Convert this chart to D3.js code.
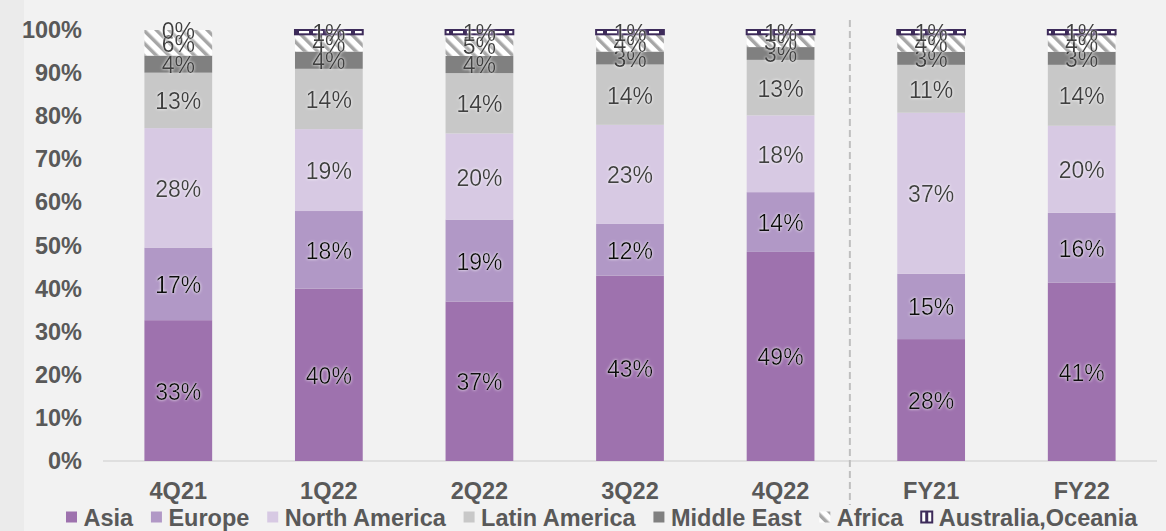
<!DOCTYPE html>
<html>
  <head>
    <meta charset="utf-8">
    <title></title>
    <style>
      body {
        margin: 0;
        background: #f2f2f2;
        font-family: Arial, "Liberation Sans", sans-serif;
      }
      svg {
        display: block;
      }
      .axis .domain, .axis line {
        display: none;
      }
      .axis text {
        font-size: 23.5px;
        font-weight: 700;
        fill: #595959;
      }
      .label {
        font-size: 23px;
        text-anchor: middle;
        dominant-baseline: central;
      }
      .legend text {
        font-size: 23.5px;
        font-weight: 700;
        fill: #595959;
      }
    </style>
  </head>
  <body>
    <div class="chart"></div>
    <script src="https://cdn.jsdelivr.net/npm/d3@7"></script>
    <script>

      let categories = ["4Q21", "1Q22", "2Q22", "3Q22", "4Q22", "FY21", "FY22"];
      let asia = [33, 40, 37, 43, 49, 28, 41];
      let europe = [17, 18, 19, 12, 14, 15, 16];
      let northAmerica = [28, 19, 20, 23, 18, 37, 20];
      let latinAmerica = [13, 14, 14, 14, 13, 11, 14];
      let middleEast = [4, 4, 4, 3, 3, 3, 3];
      let africa = [6, 4, 5, 4, 3, 4, 4];
      let oceania = [0, 1, 1, 1, 1, 1, 1];
      let seriesNames = ["Asia", "Europe", "North America", "Latin America", "Middle East", "Africa", "Australia,Oceania"];
      let yTicks = [0, 0.1, 0.2, 0.3, 0.4, 0.5, 0.6, 0.7, 0.8, 0.9, 1];

      let seriesValues = [asia, europe, northAmerica, latinAmerica, middleEast, africa, oceania];
      let fills = ["#9e72ae", "#b198c6", "#d7c9e3", "#c8c8c8", "#808080", "url(#africa)", "url(#oceania)"];
      let labelColors = ["#111", "#111", "#404040", "#404040", "#404040", "#404040", "#404040"];

      let rows = categories.map((c, i) => {
        let r = {category: c};
        seriesNames.forEach((s, j) => { r[s] = seriesValues[j][i]; });
        return r;
      });

      let elWidth = 1166, elHeight = 531;
      let margin = {top: 30, right: 9, bottom: 70, left: 103};
      let width = elWidth - margin.left - margin.right;
      let height = elHeight - margin.top - margin.bottom;

      let svg = d3.select('.chart').append('svg')
        .attr('width', elWidth)
        .attr('height', elHeight);

      let defs = svg.append('defs');

      let pa = defs.append('pattern')
        .attr('id', 'africa')
        .attr('patternUnits', 'userSpaceOnUse')
        .attr('width', 9).attr('height', 9)
        .attr('patternTransform', 'rotate(-45)');
      pa.append('rect').attr('width', 9).attr('height', 9).attr('fill', '#fff');
      pa.append('rect').attr('width', 3.5).attr('height', 9).attr('fill', '#a6a6a6');

      let po = defs.append('pattern')
        .attr('id', 'oceania')
        .attr('patternUnits', 'userSpaceOnUse')
        .attr('width', 14).attr('height', 14);
      po.append('rect').attr('width', 14).attr('height', 14).attr('fill', '#fff');
      po.append('rect').attr('x', 10).attr('width', 4).attr('height', 14).attr('fill', '#3d2b5a');

      let glow = defs.append('filter').attr('id', 'glow')
        .attr('x', '-20%').attr('y', '-30%').attr('width', '140%').attr('height', '160%');
      glow.append('feGaussianBlur').attr('in', 'SourceAlpha').attr('stdDeviation', 1.6).attr('result', 'b');
      glow.append('feFlood').attr('flood-color', '#fff').attr('flood-opacity', 1);
      glow.append('feComposite').attr('in2', 'b').attr('operator', 'in').attr('result', 'w');
      let merge = glow.append('feMerge');
      merge.append('feMergeNode').attr('in', 'w');
      merge.append('feMergeNode').attr('in', 'SourceGraphic');

      svg.append('rect').attr('width', 24).attr('height', elHeight).attr('fill', '#ebebeb');

      let g = svg.append("g").attr("transform", "translate(" + margin.left + "," + margin.top + ")");

      let x = d3.scaleBand()
        .domain(categories)
        .range([0, width])
        .paddingInner(0.55)
        .paddingOuter(0.275);

      let y = d3.scaleLinear()
        .domain([0, 1])
        .range([height, 0]);

      let stack = d3.stack()
        .keys(seriesNames)
        .offset(d3.stackOffsetExpand);
      let stacked = stack(rows);

      g.append("g")
        .attr('class', 'axis axis-left')
        .call(d3.axisLeft(y).tickValues(yTicks).tickFormat(d3.format(".0%")).tickSize(0).tickPadding(21));

      g.append("line")
        .attr("x1", 0).attr("x2", width)
        .attr("y1", y(0)).attr("y2", y(0))
        .attr("stroke", "#d9d9d9")
        .attr("stroke-width", 1.5);

      g.append("g")
        .attr('class', 'axis axis-bottom')
        .attr("transform", "translate(0," + height + ")")
        .call(d3.axisBottom(x).tickSize(0).tickPadding(21));

      // divider between quarters and full years
      let sep = x("FY21") - (x.step() - x.bandwidth()) / 2 - 6;
      g.append("line")
        .attr("x1", sep).attr("x2", sep)
        .attr("y1", -10).attr("y2", height + 44)
        .attr("stroke", "#bfbfbf")
        .attr("stroke-width", 2)
        .attr("stroke-dasharray", "7,4");

      let layers = g.selectAll(".layer")
        .data(stacked)
        .enter().append("g")
        .attr("class", "layer");

      layers.selectAll("rect")
        .data(d => d.map(p => ({p: p, i: d.index})))
        .enter().append("rect")
        .attr("x", d => x(d.p.data.category))
        .attr("width", x.bandwidth())
        .attr("y", d => y(d.p[1]))
        .attr("height", d => y(d.p[0]) - y(d.p[1]))
        .attr("fill", d => fills[d.i])
        .attr("stroke", d => d.i === 6 ? "#3d2b5a" : "none")
        .attr("stroke-width", 2);

      layers.selectAll("text")
        .data(d => d.map(p => ({p: p, i: d.index, key: d.key})))
        .enter().append("text")
        .attr("class", "label")
        .attr("filter", "url(#glow)")
        .attr("fill", d => labelColors[d.i])
        .attr("x", d => x(d.p.data.category) + x.bandwidth() / 2)
        .attr("y", d => (y(d.p[0]) + y(d.p[1])) / 2 + 1)
        .text(d => d.p.data[d.key] + "%");

      // legend
      let legend = svg.append("g").attr("class", "legend").attr("transform", "translate(66,517)");
      let lx = 0;
      seriesNames.forEach((s, i) => {
        let item = legend.append("g").attr("transform", "translate(" + lx + ",0)");
        item.append("rect")
          .attr("x", 0).attr("y", -5.5)
          .attr("width", 11).attr("height", 11)
          .attr("fill", i === 6 ? "#fff" : fills[i])
          .attr("stroke", i === 6 ? "#3d2b5a" : "none")
          .attr("stroke-width", 2);
        if (i === 6) {
          item.append("rect")
            .attr("x", 4).attr("y", -5.5)
            .attr("width", 3).attr("height", 11)
            .attr("fill", "#3d2b5a");
        }
        let t = item.append("text")
          .attr("x", 17.5)
          .attr("y", 8.5)
          .text(s);
        lx += 17.5 + t.node().getComputedTextLength() + 17.8;
      });

    </script>
  </body>
</html>
